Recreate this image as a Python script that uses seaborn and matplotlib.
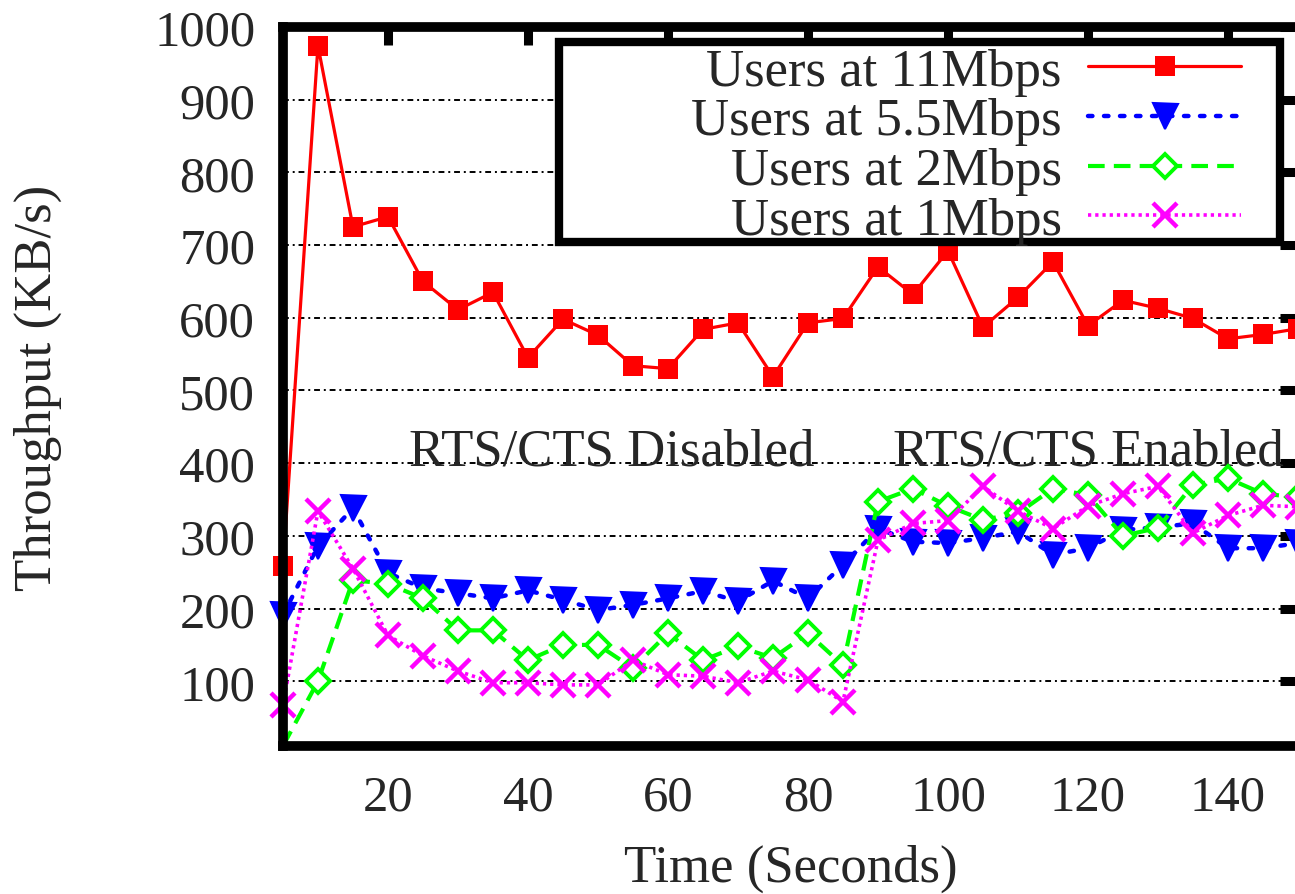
import matplotlib
matplotlib.use("Agg")
import matplotlib.pyplot as plt
import matplotlib.patches as mpatches
import seaborn as sns
import pandas as pd

# ---- data ----
time_s = [5, 10, 15, 20, 25, 30, 35, 40, 45, 50, 55, 60, 65, 70, 75,
          80, 85, 90, 95, 100, 105, 110, 115, 120, 125, 130, 135, 140, 145, 150]
thr_11mbps = [258, 974, 725, 739, 650, 611, 635, 545, 598, 576, 534, 530, 584, 593, 519,
              593, 599, 670, 632, 692, 587, 628, 677, 589, 624, 613, 599, 571, 577, 585]
thr_5_5mbps = [191, 286, 338, 249, 228, 221, 214, 225, 212, 198, 205, 214, 224, 210, 238,
               214, 260, 310, 292, 290, 297, 306, 274, 283, 308, 312, 317, 283, 283, 290]
thr_2mbps = [11, 100, 239, 234, 214, 170, 170, 129, 150, 150, 118, 166, 129, 148, 132,
             166, 122, 347, 365, 341, 322, 331, 365, 356, 300, 311, 370, 379, 358, 353]
thr_1mbps = [67, 334, 255, 163, 135, 114, 98, 98, 95, 95, 129, 109, 107, 98, 114,
             102, 72, 294, 317, 321, 368, 334, 310, 341, 358, 368, 304, 328, 342, 340]

series_labels = ["Users at 11Mbps", "Users at 5.5Mbps", "Users at 2Mbps", "Users at 1Mbps"]
annot_labels = ["RTS/CTS Disabled", "RTS/CTS Enabled"]
annot_x = [52, 120]
annot_y = [398, 398]
x_ticks = [20, 40, 60, 80, 100, 120, 140]
y_ticks = [100, 200, 300, 400, 500, 600, 700, 800, 900, 1000]
x_label = "Time (Seconds)"
y_label = "Throughput (KB/s)"

df = pd.DataFrame({
    "time": time_s * 4,
    "throughput": thr_11mbps + thr_5_5mbps + thr_2mbps + thr_1mbps,
    "series": sum([[lab] * len(time_s) for lab in series_labels], []),
})

# ---- style ----
sns.set_theme(style="white")
plt.rcParams["font.family"] = ["Liberation Serif", "DejaVu Serif"]
FS = 36.5
FS_TXT = 38

fig = plt.figure(figsize=(12.95, 8.95), dpi=100)
ax = fig.add_axes([0.2185, 0.1654, 0.7838, 0.8034])

styles = {
    series_labels[0]: dict(color="#ff0000", marker="s", linestyle="-", lw=2.3,
                           ms=14, mew=0, mfc="#ff0000", mec="#ff0000"),
    series_labels[1]: dict(color="#0000ff", marker="v", linestyle=(0, (1.0, 2.6)), lw=3.2,
                           ms=18, mew=1.5, mfc="#0000ff", mec="#0000ff",
                           dash_capstyle="round"),
    series_labels[2]: dict(color="#00ff00", marker="D", linestyle=(0, (4.0, 2.2)), lw=3.0,
                           ms=12, mew=2.8, mfc="white", mec="#00ff00",
                           markevery=slice(1, None)),
    series_labels[3]: dict(color="#ff00ff", marker="x", linestyle=(0, (0.9, 1.1)), lw=2.6,
                           ms=17, mew=3.2, mec="#ff00ff"),
}

for lab in series_labels:
    sub = df[df["series"] == lab]
    sns.lineplot(data=sub, x="time", y="throughput", ax=ax, label=lab,
                 estimator=None, sort=False, clip_on=False, zorder=3,
                 **styles[lab])

ax.set_xlim(5, 150)
ax.set_ylim(11, 1000)
ax.set_xticks(x_ticks)
ax.set_yticks(y_ticks)
ax.set_xticklabels([str(v) for v in x_ticks])
ax.set_yticklabels([str(v) for v in y_ticks])

ax.yaxis.grid(True, color="black", linestyle=(0, (3, 2, 1, 2)), linewidth=1.4)
ax.xaxis.grid(False)
ax.set_axisbelow(True)

ax.tick_params(axis="both", which="major", direction="in", length=13, width=6.5,
               top=True, right=True, labelsize=FS, pad=20, color="black")
for sp in ax.spines.values():
    sp.set_linewidth(7)
    sp.set_color("black")
    sp.set_zorder(5)

ax.set_xlabel(x_label, fontsize=FS_TXT, labelpad=17)
ax.set_ylabel(y_label, fontsize=FS_TXT, labelpad=66)

for s, x, y in zip(annot_labels, annot_x, annot_y):
    ax.text(x, y, s, ha="center", va="baseline", fontsize=FS_TXT, zorder=2)

# legend box (gnuplot-style wide key box)
box = mpatches.Rectangle((0.272, 0.701), 0.71, 0.278, transform=ax.transAxes,
                         facecolor="white", edgecolor="black", linewidth=6,
                         zorder=5.5, clip_on=False)
ax.add_patch(box)

handles, labels = ax.get_legend_handles_labels()
leg = ax.legend(handles, labels, loc="center right", bbox_to_anchor=(0.944, 0.834),
                markerfirst=False, fontsize=FS_TXT, handlelength=2.9, handletextpad=0.5,
                labelspacing=0.03, borderpad=0, borderaxespad=0, frameon=False)
leg.set_zorder(6)

fig.savefig("out.png", dpi=100)
